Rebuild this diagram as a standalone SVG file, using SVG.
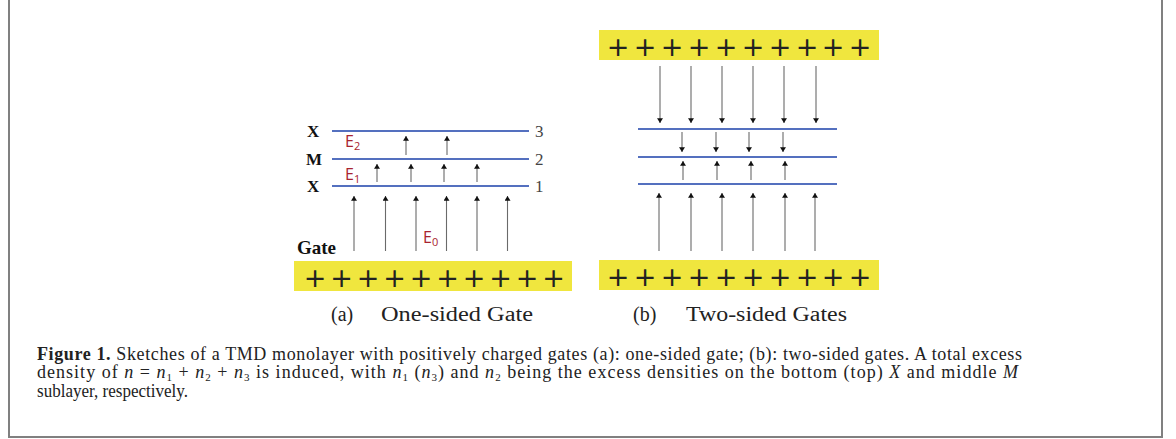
<svg xmlns="http://www.w3.org/2000/svg" width="1176" height="439" viewBox="0 0 1176 439">
<defs>
<marker id="ah" viewBox="0 0 8 10" refX="8" refY="5" markerWidth="8" markerHeight="6" markerUnits="userSpaceOnUse" orient="auto">
<path d="M0,0 L8,5 L0,10 z" fill="#111"/>
</marker>
<style>
.frame{fill:none;stroke:#808080;stroke-width:2}
.gate{fill:#f0e63e}
.plus{font-family:"DejaVu Sans",sans-serif;font-size:27px;fill:#222;text-anchor:middle}
.layer{stroke:#5470bf;stroke-width:2.2}
.arr{stroke:#6a6a6a;stroke-width:1.1;fill:none;marker-end:url(#ah)}
.lab{font-family:"Liberation Serif",serif;font-weight:bold;font-size:17px;fill:#111}
.num{font-family:"Liberation Serif",serif;font-size:17px;fill:#444}
.E{font-family:"Open Sans","Liberation Sans",sans-serif;font-size:16px;fill:#a8232f}
.sub{font-family:"Liberation Serif",serif;font-size:20px;fill:#222}
.cap{font-family:"Liberation Serif",serif;font-size:18px;fill:#222}
</style>
</defs>
<rect class="frame" x="9" y="-5" width="1153" height="442"/>

<g id="panel-a">
<g id="layers-a">
<line class="layer" x1="332" y1="131" x2="529" y2="131"/>
<line class="layer" x1="332" y1="159" x2="529" y2="159"/>
<line class="layer" x1="332" y1="186" x2="529" y2="186"/>
</g>
<text class="lab" x="307" y="137">X</text>
<text class="lab" x="306" y="165">M</text>
<text class="lab" x="307" y="192">X</text>
<text class="num" x="535" y="137">3</text>
<text class="num" x="535" y="165">2</text>
<text class="num" x="535" y="192">1</text>
<text class="E" x="345" y="147">E<tspan font-size="11" dy="3">2</tspan></text>
<text class="E" x="345" y="180">E<tspan font-size="11" dy="3">1</tspan></text>
<text class="E" x="423" y="243">E<tspan font-size="11" dy="3">0</tspan></text>
<text x="297" y="254" font-family="Liberation Serif,serif" font-weight="bold" font-size="19" fill="#111">Gate</text>
<g id="gate-a">
<rect class="gate" x="294" y="261" width="278" height="30"/>
<text class="plus" x="315 341.5 368 394.5 421 447.5 474 500.5 527 553.5" y="287">++++++++++</text>
</g>
</g>

<g id="panel-b">
<g id="gate-b-top">
<rect class="gate" x="599" y="30" width="280" height="30"/>
<text class="plus" x="618 645 672 699 726 753 780 807 833 860" y="56">++++++++++</text>
</g>
<g id="layers-b">
<line class="layer" x1="638" y1="129" x2="837" y2="129"/>
<line class="layer" x1="638" y1="157" x2="837" y2="157"/>
<line class="layer" x1="638" y1="184" x2="837" y2="184"/>
</g>
<g id="gate-b-bottom">
<rect class="gate" x="599" y="260" width="280" height="30"/>
<text class="plus" x="618 645 672 699 726 753 780 807 833 860" y="286">++++++++++</text>
</g>
</g>

<g id="connectors">
<line class="arr" x1="406" y1="155" x2="406" y2="136"/>
<line class="arr" x1="447" y1="155" x2="447" y2="136"/>
<line class="arr" x1="377" y1="182" x2="377" y2="164"/>
<line class="arr" x1="411" y1="182" x2="411" y2="164"/>
<line class="arr" x1="444" y1="182" x2="444" y2="164"/>
<line class="arr" x1="477" y1="182" x2="477" y2="164"/>
<line class="arr" x1="354" y1="251" x2="354" y2="196"/>
<line class="arr" x1="385.5" y1="251" x2="385.5" y2="196"/>
<line class="arr" x1="416" y1="251" x2="416" y2="196"/>
<line class="arr" x1="446.5" y1="251" x2="446.5" y2="196"/>
<line class="arr" x1="477" y1="251" x2="477" y2="196"/>
<line class="arr" x1="507.5" y1="251" x2="507.5" y2="196"/>
<line class="arr" x1="660" y1="66" x2="660" y2="123"/>
<line class="arr" x1="691" y1="66" x2="691" y2="123"/>
<line class="arr" x1="722" y1="66" x2="722" y2="123"/>
<line class="arr" x1="753" y1="66" x2="753" y2="123"/>
<line class="arr" x1="784" y1="66" x2="784" y2="123"/>
<line class="arr" x1="816" y1="66" x2="816" y2="123"/>
<line class="arr" x1="682" y1="132" x2="682" y2="152"/>
<line class="arr" x1="716" y1="132" x2="716" y2="152"/>
<line class="arr" x1="749" y1="132" x2="749" y2="152"/>
<line class="arr" x1="783" y1="132" x2="783" y2="152"/>
<line class="arr" x1="683" y1="180" x2="683" y2="161"/>
<line class="arr" x1="717" y1="180" x2="717" y2="161"/>
<line class="arr" x1="751" y1="180" x2="751" y2="161"/>
<line class="arr" x1="785" y1="180" x2="785" y2="161"/>
<line class="arr" x1="659" y1="251" x2="659" y2="193"/>
<line class="arr" x1="691" y1="251" x2="691" y2="193"/>
<line class="arr" x1="722" y1="251" x2="722" y2="193"/>
<line class="arr" x1="753" y1="251" x2="753" y2="193"/>
<line class="arr" x1="785" y1="251" x2="785" y2="193"/>
<line class="arr" x1="815" y1="251" x2="815" y2="193"/>
</g>

<g id="subcaptions">
<text class="sub" x="331" y="321">(a)</text>
<text class="sub" x="381" y="321" textLength="152" lengthAdjust="spacingAndGlyphs">One-sided Gate</text>
<text class="sub" x="633" y="321">(b)</text>
<text class="sub" x="686" y="321" textLength="161" lengthAdjust="spacingAndGlyphs">Two-sided Gates</text>
</g>

<g id="caption">
<text class="cap" x="37" y="360" textLength="985" lengthAdjust="spacing"><tspan font-weight="bold">Figure 1.</tspan>  Sketches of a TMD monolayer with positively charged gates (a): one-sided gate; (b): two-sided gates. A total excess</text>
<text class="cap" x="37" y="378" textLength="981" lengthAdjust="spacing">density of <tspan font-style="italic">n</tspan> = <tspan font-style="italic">n</tspan><tspan font-size="11" dy="2.5">1</tspan><tspan dy="-2.5"> + </tspan><tspan font-style="italic">n</tspan><tspan font-size="11" dy="2.5">2</tspan><tspan dy="-2.5"> + </tspan><tspan font-style="italic">n</tspan><tspan font-size="11" dy="2.5">3</tspan><tspan dy="-2.5"> is induced, with </tspan><tspan font-style="italic">n</tspan><tspan font-size="11" dy="2.5">1</tspan><tspan dy="-2.5"> (</tspan><tspan font-style="italic">n</tspan><tspan font-size="11" dy="2.5">3</tspan><tspan dy="-2.5">) and </tspan><tspan font-style="italic">n</tspan><tspan font-size="11" dy="2.5">2</tspan><tspan dy="-2.5"> being the excess densities on the bottom (top) </tspan><tspan font-style="italic">X</tspan> and middle <tspan font-style="italic">M</tspan></text>
<text class="cap" x="37" y="397" textLength="151" lengthAdjust="spacingAndGlyphs">sublayer, respectively.</text>
</g>
</svg>
